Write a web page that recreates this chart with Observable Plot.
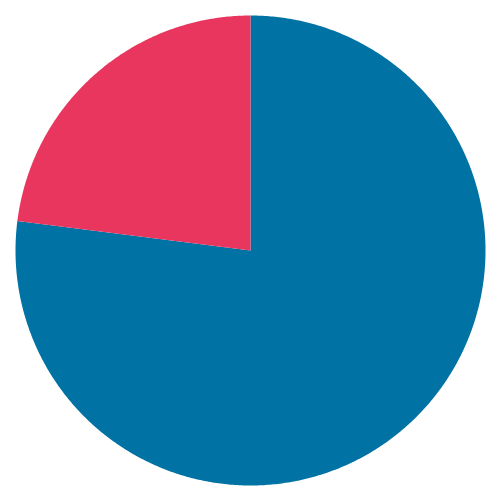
<!DOCTYPE html>
<html>
<head>
<meta charset="utf-8">
<script src="https://cdn.jsdelivr.net/npm/d3@7"></script>
<script src="https://cdn.jsdelivr.net/npm/@observablehq/plot@0.6"></script>
<style>
  html, body { margin: 0; padding: 0; background: #fff; }
</style>
</head>
<body>
<div id="chart"></div>
<script>
const categories = ["A", "B"];
const values = [77, 23];
const colors = ["#0072a3", "#e8365f"];

const pie = d3.pie().sort(null).value(d => d.value)(
  categories.map((c, i) => ({category: c, value: values[i]}))
);

// Build slice outlines (unit circle, angle clockwise from top)
const pts = [];
for (const a of pie) {
  const cat = a.data.category;
  pts.push({category: cat, x: 0, y: 0});
  const n = Math.max(2, Math.ceil((a.endAngle - a.startAngle) / (Math.PI / 360)));
  for (let k = 0; k <= n; k++) {
    const t = a.startAngle + (a.endAngle - a.startAngle) * k / n;
    pts.push({category: cat, x: Math.sin(t), y: Math.cos(t)});
  }
}

const chart = Plot.plot({
  width: 500,
  height: 500,
  margin: 15,
  x: {domain: [-1, 1], axis: null},
  y: {domain: [-1, 1], axis: null},
  color: {domain: categories, range: colors},
  marks: [
    Plot.line(pts, {x: "x", y: "y", z: "category", fill: "category", stroke: "none", curve: "linear-closed"})
  ]
});
document.getElementById("chart").appendChild(chart);
</script>
</body>
</html>
